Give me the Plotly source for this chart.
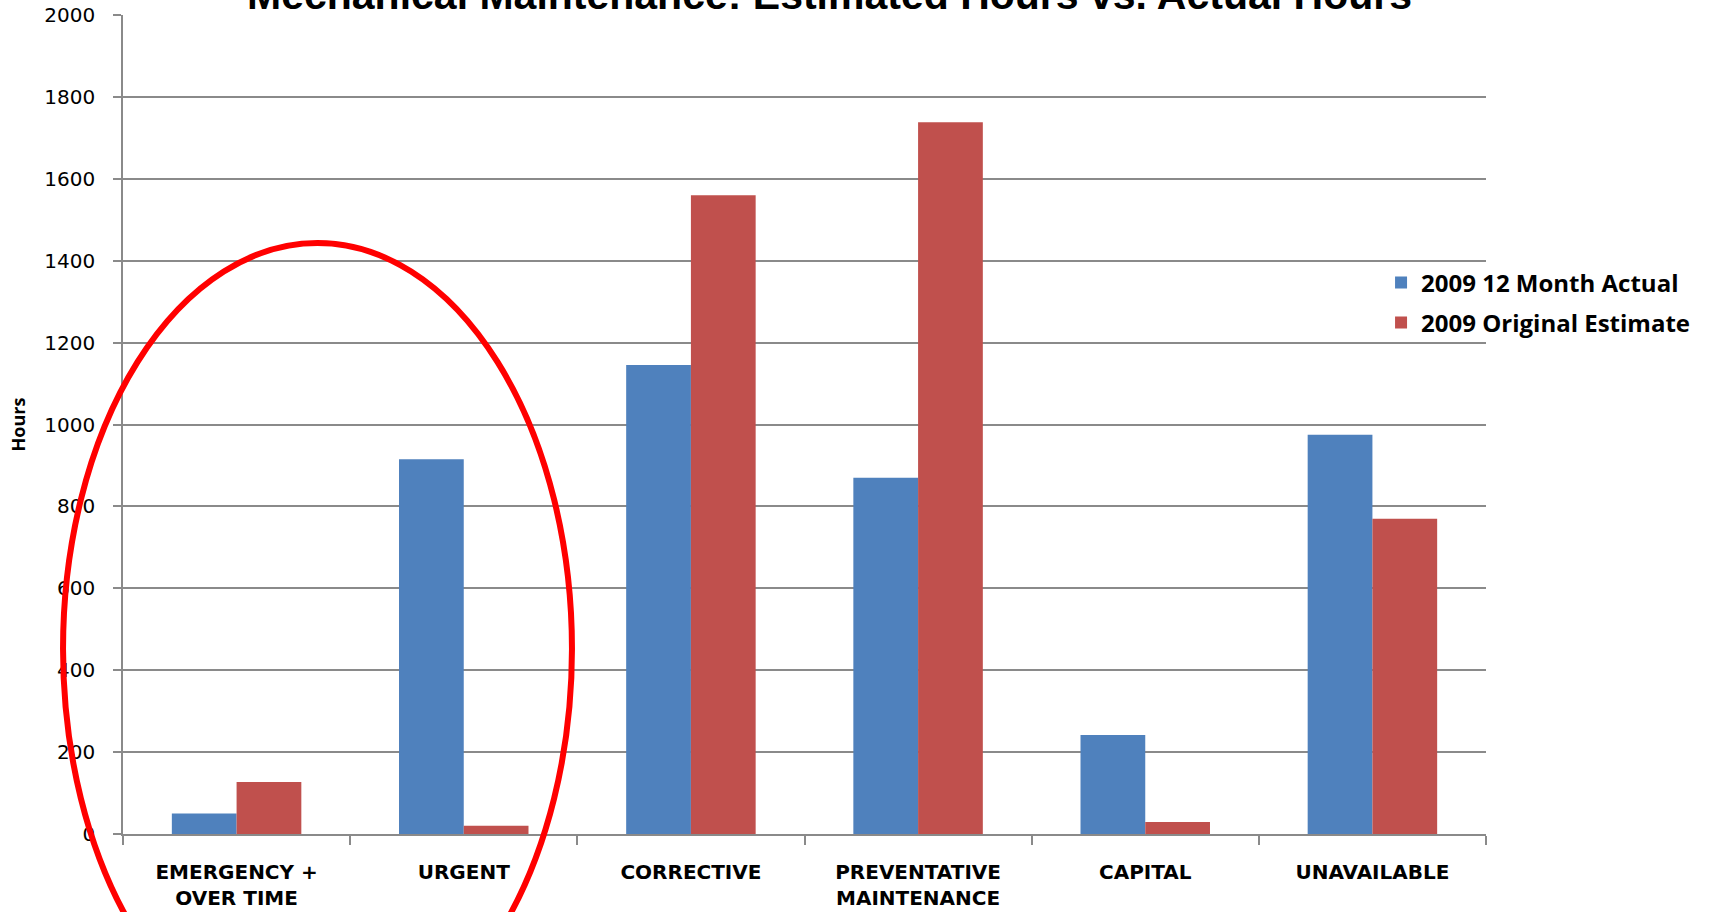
import plotly.graph_objects as go

# Work-order categories and hours per series
categories = ["EMERGENCY +<br>OVER TIME", "URGENT", "CORRECTIVE",
              "PREVENTATIVE<br>MAINTENANCE", "CAPITAL", "UNAVAILABLE"]
actual_2009 = [50, 915, 1145, 870, 242, 975]
estimate_2009 = [127, 20, 1560, 1738, 29, 770]

series_names = ["2009 12 Month Actual", "2009 Original Estimate"]
series_colors = ["#4F81BD", "#C0504D"]

y_ticks = [0, 200, 400, 600, 800, 1000, 1200, 1400, 1600, 1800, 2000]

TITLE = "Mechanical Maintenance: Estimated Hours vs. Actual Hours"

GRID = "#8a8a8a"
LABEL_FONT = "Open Sans"
TICK_FONT = "DejaVu Sans"

fig = go.Figure()
fig.add_trace(go.Bar(x=categories, y=actual_2009, name=series_names[0],
                     marker=dict(color=series_colors[0], line=dict(width=0)),
                     legend="legend"))
fig.add_trace(go.Bar(x=categories, y=estimate_2009, name=series_names[1],
                     marker=dict(color=series_colors[1], line=dict(width=0)),
                     legend="legend2"))

# Highlight ring around the first two categories (paper coordinates)
ring = dict(x0=-0.044, x1=0.3294, y0=-0.2698, y1=0.7216)
fig.add_shape(type="circle", xref="paper", yref="paper",
              x0=ring["x0"], x1=ring["x1"], y0=ring["y0"], y1=ring["y1"],
              line=dict(color="#FF0000", width=6), layer="above")

fig.add_annotation(text="<b>" + TITLE + "</b>", xref="paper", yref="paper",
                   x=0.518, y=1.024, xanchor="center", yanchor="middle",
                   showarrow=False,
                   font=dict(family="Liberation Sans", size=41, color="#000"))

legend_common = dict(xanchor="left", yanchor="middle", bgcolor="rgba(0,0,0,0)",
                     font=dict(family=LABEL_FONT, size=24, color="#000", weight="bold"),
                     itemwidth=30, borderwidth=0)

fig.update_layout(
    width=1709, height=912,
    margin=dict(l=123, r=223, t=15, b=78, autoexpand=False),
    paper_bgcolor="white", plot_bgcolor="white",
    barmode="group", bargap=0.43, bargroupgap=0,
    showlegend=True,
    legend=dict(x=0.923, y=0.6728, **legend_common),
    legend2=dict(x=0.923, y=0.624, **legend_common),
    xaxis=dict(
        automargin=False,
        showline=True, linecolor=GRID, linewidth=1.5,
        ticks="outside", tickson="boundaries", ticklen=9, tickcolor=GRID, tickwidth=1.5,
        tickfont=dict(family=TICK_FONT, size=20, color="#000", weight="bold"),
        ticklabelstandoff=19,
        showgrid=False,
    ),
    yaxis=dict(
        automargin=False,
        range=[0, 2000], tickvals=y_ticks,
        showline=True, linecolor=GRID, linewidth=1.5,
        showgrid=True, gridcolor=GRID, gridwidth=1.5,
        zeroline=False,
        ticks="outside", ticklen=8, tickcolor=GRID, tickwidth=1.5,
        tickfont=dict(family=TICK_FONT, size=20, color="#000"),
        ticklabelstandoff=14,
        title=dict(text="<b>Hours</b>", standoff=14,
                   font=dict(family=LABEL_FONT, size=18, color="#000")),
    ),
)

fig.write_html("out.html")
